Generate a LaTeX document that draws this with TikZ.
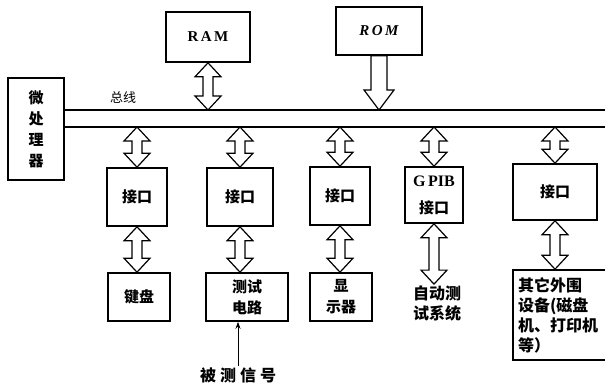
\documentclass[tikz,border=0pt]{standalone}
\usepackage{fontspec}
\setmainfont{Liberation Serif}
\newfontfamily\cjk{Noto Sans CJK SC}
\usepackage{tikz}
\usetikzlibrary{calc,arrows.meta}

\begin{document}
\begin{tikzpicture}[x=1pt,y=-1pt,
  blk/.style={draw,line width=1.6pt,inner sep=0pt,align=center,font=\cjk\bfseries\fontsize{15}{21}\selectfont},
  fat/.style={draw,line width=1.2pt,fill=white,line join=miter}]
  \def\dbl#1#2{\draw[fat] (#1) -- ++(13,14) -- ++(-8,0) -- ($(#2)+(5,-14)$) -- ++(8,0) -- (#2)
    -- ++(-13,-14) -- ++(8,0) -- ($(#1)+(-5,14)$) -- ++(-8,0) -- cycle;}
  \useasboundingbox (0,0) rectangle (605,385);
  \node[blk,minimum width=56,minimum height=102] (cpu) at (36,129) {微\\处\\理\\器};
  \node[blk,minimum width=84,minimum height=50,font=\bfseries\fontsize{15}{18}\selectfont] (ram) at (208,37) {R\,A\,M};
  \node[blk,minimum width=86,minimum height=48,font=\bfseries\itshape\fontsize{15}{18}\selectfont] (rom) at (379,31) {R\,O\,M};
  \node[blk,minimum width=60,minimum height=58] (if1) at (137,197) {接口};
  \node[blk,minimum width=66,minimum height=58] (if2) at (240,197) {接口};
  \node[blk,minimum width=60,minimum height=58] (if3) at (340,196) {接口};
  \node[blk,minimum width=58,minimum height=56] (if4) at (434,195) {{\rmfamily\fontsize{16}{18}\selectfont G\,PIB}\\[6pt]接口};
  \node[blk,minimum width=84,minimum height=56] (if5) at (555,192) {接口};
  \node[blk,minimum width=62,minimum height=48] (kb) at (139,297) {键盘};
  \node[blk,minimum width=82,minimum height=48] (ckt) at (247,297) {测试\\电路};
  \node[blk,minimum width=62,minimum height=48] (disp) at (341,297) {显\\示器};
  \node[align=center,inner sep=1pt,font=\cjk\bfseries\fontsize{16}{20}\selectfont] (ats) at (437,303) {自动测\\试系统};
  \node[blk,minimum width=96,minimum height=90,align=left,text width=86,
    font=\cjk\bfseries\fontsize{16}{20}\selectfont] (per) at (561,315) {其它外围\\设备(磁盘\\机、打印机\\等）};
  \node[font=\cjk\fontsize{13}{15}\selectfont] (bus) at (123,98) {总线};
  \node[inner sep=1pt,font=\cjk\bfseries\fontsize{16}{18}\selectfont] (sig) at (238,375) {被\hspace{4pt}测\hspace{4pt}信\hspace{4pt}号};
  \coordinate (bt) at (cpu.east |- 0,110); \coordinate (btr) at (610,110);
  \coordinate (bb) at (cpu.east |- 0,127); \coordinate (bbr) at (610,127);
  \draw[line width=1.6pt] (bt) -- (btr) (bb) -- (bbr);
  \dbl{ram.south}{ram.south |- bt}
  \coordinate (ra) at (rom.south |- bt);
  \draw[fat] ($(rom.south)+(-8,0)$) -- ($(rom.south)+(8,0)$) -- ($(ra)+(8,-20)$) -- ++(7,0) -- (ra)
    -- ++(-15,-20) -- ++(7,0) -- cycle;
  \foreach \i in {1,...,5} {\dbl{if\i.north |- bb}{if\i.north}}
  \foreach \a/\b in {if1/kb,if2/ckt,if3/disp,if4/ats,if5/per} {\dbl{\a.south}{\a.south |- \b.north}}
  \draw[line width=1pt,-{Stealth[length=7pt,width=5pt]}] (sig.north) -- (sig.north |- ckt.south);
\end{tikzpicture}
\end{document}
